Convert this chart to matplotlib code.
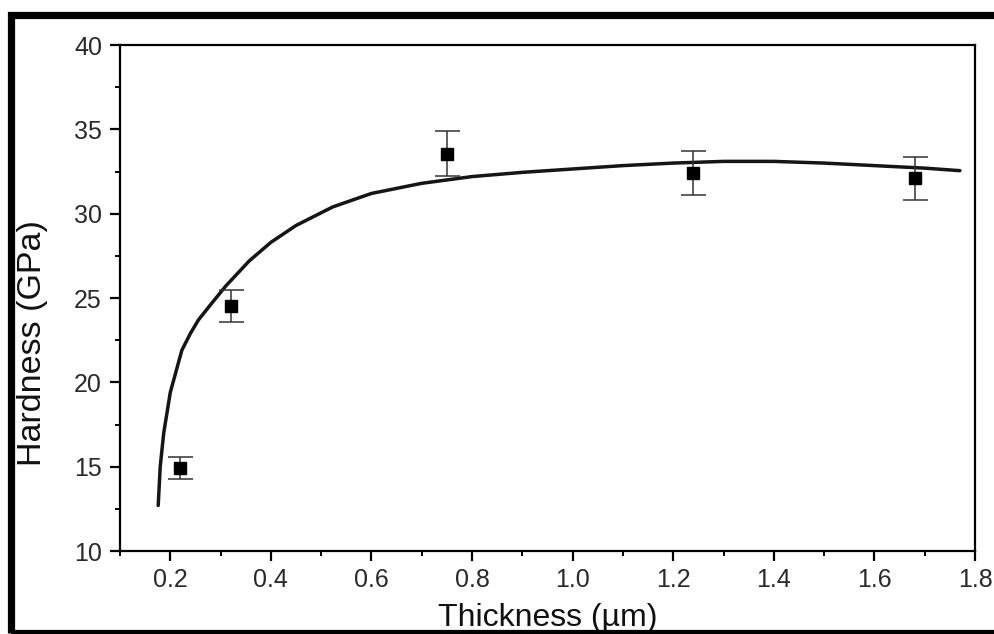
import matplotlib
matplotlib.use("Agg")
import matplotlib.pyplot as plt
from matplotlib.patches import Rectangle
from matplotlib.ticker import MultipleLocator
import numpy as np

# measured points (thickness in um, hardness in GPa, error)
thick = [0.22, 0.32, 0.75, 1.24, 1.68]
hard = [14.9, 24.5, 33.55, 32.4, 32.1]
hard_err = [0.65, 0.95, 1.33, 1.3, 1.27]

# fitted curve
fit_x = [0.176, 0.180, 0.187, 0.200, 0.223, 0.240, 0.256, 0.280, 0.310, 0.357,
         0.400, 0.450, 0.523, 0.600, 0.700, 0.800, 0.900, 1.000, 1.100, 1.200,
         1.300, 1.400, 1.500, 1.600, 1.700, 1.770]
fit_y = [12.7, 15.0, 17.0, 19.4, 21.9, 22.9, 23.7, 24.6, 25.7, 27.2,
         28.3, 29.3, 30.4, 31.2, 31.8, 32.2, 32.45, 32.65, 32.85, 33.0,
         33.1, 33.1, 33.0, 32.85, 32.7, 32.55]

plt.rcParams['font.family'] = ['Liberation Sans', 'DejaVu Sans']

fig = plt.figure(figsize=(9.94, 6.34), dpi=100)
ax = fig.add_axes([0.1207, 0.1309, 0.8602, 0.7981])

ax.plot(fit_x, fit_y, color='#151515', lw=2.5, solid_capstyle='round',
        solid_joinstyle='round')
ax.errorbar(thick, hard, yerr=hard_err, fmt='s', color='black', ms=9,
            ecolor='#333333', elinewidth=1.1, capsize=9, capthick=1.1)

ax.set_xlim(0.1, 1.8)
ax.set_ylim(10, 40)
ax.xaxis.set_major_locator(MultipleLocator(0.2))
ax.xaxis.set_minor_locator(MultipleLocator(0.1))
ax.yaxis.set_major_locator(MultipleLocator(5))
ax.yaxis.set_minor_locator(MultipleLocator(2.5))
ax.set_xticks(np.arange(0.2, 1.81, 0.2))
ax.set_xticklabels(['0.2', '0.4', '0.6', '0.8', '1.0', '1.2', '1.4', '1.6', '1.8'])

for sp in ax.spines.values():
    sp.set_linewidth(1.6)
    sp.set_color('black')

ax.tick_params(which='major', direction='out', length=7, width=1.6,
               labelsize=18, colors='black', labelcolor='#2a2a2a')
ax.tick_params(axis='x', which='major', pad=5)
ax.tick_params(axis='y', which='major', pad=6)
ax.tick_params(which='minor', direction='out', length=3.5, width=1.4)
ax.tick_params(top=False, right=False, which='both')

ax.set_xlabel('Thickness (\u00b5m)', fontsize=23, color='#111111', labelpad=8)
ax.set_ylabel('Hardness (GPa)', fontsize=24.5, color='#111111')
ax.yaxis.set_label_coords(-0.084, 0.41)

# black frame round the figure
fig.patches.append(Rectangle((0.011, 0.0016), 1.0, 0.9755, transform=fig.transFigure,
                             fill=False, edgecolor='black', lw=5.2, clip_on=False))

fig.savefig('out.png', dpi=100)
